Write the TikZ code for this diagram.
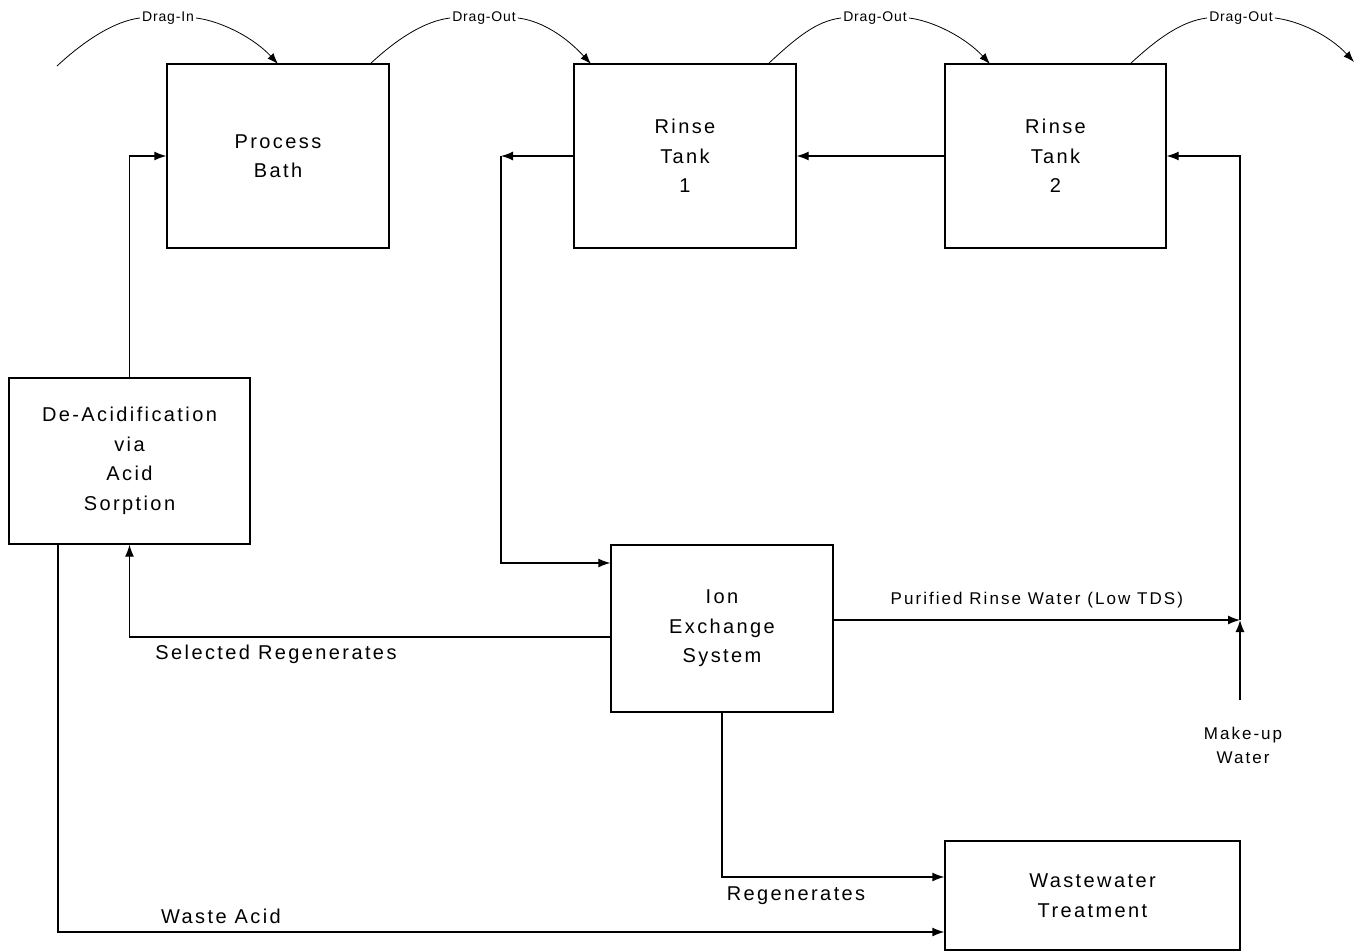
\documentclass[tikz,border=0pt]{standalone}
\usepackage{fontspec}
\setmainfont{Liberation Sans}[LetterSpace=12]
\newfontfamily\smallf{Liberation Sans}[LetterSpace=6]
\usetikzlibrary{arrows.meta}
\begin{document}
\begin{tikzpicture}[x=1pt,y=-1pt,
  blk/.style={draw,line width=1.3pt,align=center,inner sep=0pt,font=\fontsize{20}{29.5}\selectfont},
  conn/.style={line width=1.3pt},
  arr/.style={conn,-{Latex[length=12pt,width=9pt]}},
  bigtxt/.style={font=\fontsize{20}{29}\selectfont,inner sep=0pt},
  midtxt/.style={font=\fontsize{17}{24}\selectfont,inner sep=0pt,align=center},
  smalltxt/.style={font=\smallf\fontsize{14}{16}\selectfont,inner sep=2pt},
]
\useasboundingbox (0,0) rectangle (1356,952);

% boxes
\node[blk,minimum width=222pt,minimum height=184pt] (pb) at (278,156) {Process\\Bath};
\node[blk,minimum width=222pt,minimum height=184pt] (rt1) at (685,156) {Rinse\\Tank\\1};
\node[blk,minimum width=221pt,minimum height=184pt] (rt2) at (1055.5,156) {Rinse\\Tank\\2};
\node[blk,minimum width=241pt,minimum height=166pt] (da) at (129.5,461) {De-Acidification\\via\\Acid\\Sorption};
\node[blk,minimum width=222pt,minimum height=167pt] (ix) at (722,628.5) {Ion\\Exchange\\System};
\node[blk,minimum width=295pt,minimum height=109pt] (wt) at (1092.5,895.5) {Wastewater\\Treatment};

% drag curves
\node[smalltxt] (d1) at (168,18) {Drag-In};
\node[smalltxt] (d2) at (484,18) {Drag-Out};
\node[smalltxt] (d3) at (875,18) {Drag-Out};
\node[smalltxt] (d4) at (1241,18) {Drag-Out};
\coordinate (d1s) at (57,66);
\coordinate (d1e) at (278,64);
\coordinate (d2s) at (370,64);
\coordinate (d2e) at (591,64);
\coordinate (d3s) at (768,64);
\coordinate (d3e) at (990,64);
\coordinate (d4s) at (1130,64);
\coordinate (d4e) at (1354,62);
\foreach \i in {1,2,3,4}{
  \draw[conn,line width=0.8pt] (d\i s) .. controls +(28,-26) and +(-25,3) .. (d\i.west);
  \draw[conn,line width=0.8pt,-{Latex[length=11pt,width=8pt]}] (d\i.east) .. controls +(25,3) and +(-24,-26) .. (d\i e);
}

% connectors
\draw[arr] (da.north) -- (da.north |- pb.west) -- (pb.west);
\coordinate (c1) at (501,156);
\coordinate (c2) at (501,563);
\draw[arr] (rt1.west) -- (c1);
\draw[arr] (c1) -- (c2) -- (c2 -| ix.west);
\draw[arr] (rt2.west) -- (rt1.east);

\coordinate (j) at (1240,620);
\coordinate (mw) at (1240,700);
\draw[arr] (j -| ix.east) -- node[midtxt,above=11pt] {Purified Rinse Water (Low TDS)} (j);
\draw[arr] (mw) -- (j);
\node[midtxt,below=27pt,xshift=3pt] (mwl) at (mw) {Make-up\\Water};
\draw[arr] (j) -- (j |- rt2.east) -- (rt2.east);

\coordinate (sr) at (611,637);
\draw[arr] (sr) -- (sr -| da.south) -- (da.south);
\node[bigtxt] (srl) at (276,654) {Selected Regenerates};

\coordinate (wa) at (58,544);
\coordinate (wb) at (58,932);
\draw[arr] (wa) -- (wb) -- (wb -| wt.west);
\node[bigtxt] (wal) at (221,916) {Waste Acid};

\coordinate (rg) at (722,877);
\draw[arr] (ix.south) -- (rg) -- (rg -| wt.west);
\node[bigtxt] (rgl) at (796,896) {Regenerates};
\end{tikzpicture}
\end{document}
